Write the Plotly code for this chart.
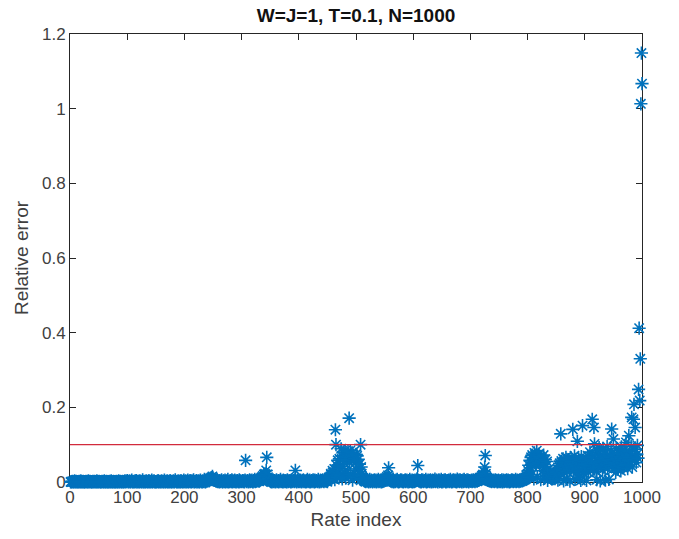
import numpy as np
import plotly.graph_objects as go

# Relative error per rate index, in thousandths
err_001_100 = [0,1,0,2,1,0,1,3,0,1, 2,0,1,1,0,2,1,0,3,1, 0,1,2,0,1,0,1,2,1,0, 1,3,0,1,2,1,0,1,0,2,
               1,0,2,1,1,0,3,1,0,1, 2,1,0,1,0,2,1,1,0,3, 1,0,1,2,0,1,1,0,2,1, 0,3,1,0,1,2,0,1,1,0,
               2,1,0,1,3,0,1,2,1,0, 1,2,0,1,1,3,0,2,1,4]
err_101_200 = [2,0,1,3,1,0,2,5,1,0, 1,2,0,3,1,4,0,1,2,1, 0,3,1,2,0,1,6,1,0,2, 1,0,3,1,2,0,1,4,1,0,
               2,1,5,0,1,2,3,0,1,1, 0,2,1,4,0,1,2,1,0,3, 1,2,0,1,5,1,0,2,1,3, 0,1,2,0,4,1,1,0,2,1,
               3,0,1,6,2,1,0,1,3,0, 2,1,0,4,1,2,0,1,5,1]
err_201_300 = [1,3,0,2,1,5,0,1,2,4, 1,0,3,1,2,6,0,1,2,1, 4,0,2,1,3,0,1,5,2,1, 0,3,1,2,7,1,0,4,2,3,
               5,8,3,6,10,7,12,9,15,11, 8,6,4,7,3,2,5,1,3,2, 0,4,1,2,6,1,0,3,2,1, 5,0,2,3,1,7,0,2,1,4,
               2,1,6,0,3,2,1,5,2,0, 3,1,4,2,0,6,1,3,2,1]
err_301_400 = [2,4,1,3,0,5,58,2,1,4, 3,0,2,6,1,3,2,5,1,0, 4,2,7,1,3,2,5,8,3,6, 2,4,9,6,12,8,16,10,20,14,
               22,18,31,66,20,13,9,6,4,2, 1,3,0,2,5,1,4,2,0,3, 6,1,2,4,0,3,2,7,1,2, 3,0,5,1,2,4,1,3,0,6,
               2,1,4,2,3,0,5,1,2,3, 4,1,6,31,2,0,3,5,1,2]
err_401_500 = [3,1,5,2,0,4,2,6,1,3, 2,0,4,1,7,2,3,1,5,0, 2,4,1,3,6,2,0,5,1,3, 4,2,1,7,3,0,2,5,1,4,
               3,6,2,1,4,8,3,2,5,1, 6,9,12,8,15,22,11,18,30,25, 14,35,6,140,100,45,12,58,40,26,
               62,18,36,89,70,8,42,80,24,50, 84,10,75,60,30,82,16,171,52,84, 20,66,78,5,58,72,14,63,35,74]
err_501_600 = [56,70,12,61,35,48,27,100,40,22, 15,9,6,4,2,5,1,3,6,2, 4,0,3,7,1,2,5,3,0,4, 2,6,1,3,5,0,2,4,7,1,
               3,2,5,0,4,1,6,2,3,8, 5,10,7,14,9,18,38,12,6,4, 2,5,1,3,6,0,2,4,1,5, 3,7,2,0,4,1,3,6,2,5,
               1,3,0,4,2,6,1,3,5,2, 0,4,1,7,2,3,1,5,0,2]
err_601_700 = [3,1,5,2,4,6,9,44,5,2, 4,1,3,0,6,2,5,1,3,4, 2,7,0,3,1,5,2,4,1,6, 3,0,2,5,1,4,2,8,1,3,
               5,2,0,4,6,1,3,2,7,0, 4,1,3,5,2,6,0,3,1,4, 2,5,1,3,7,2,0,4,1,6, 3,2,5,1,4,0,8,2,3,5,
               1,6,2,4,0,3,5,1,7,2, 4,3,1,6,2,5,0,3,4,2]
err_701_800 = [2,5,1,3,6,2,4,1,7,3, 5,2,8,4,6,10,7,12,9,16, 11,20,14,28,40,71,22,15,9,6, 4,7,3,5,2,6,1,4,3,2,
               5,1,3,6,2,4,0,3,5,1, 2,4,1,3,6,0,2,5,1,3, 4,2,6,1,3,5,2,0,4,1, 3,6,2,5,1,4,3,2,7,1,
               3,5,2,4,1,6,3,2,5,4, 3,7,5,9,6,12,10,18,14,22]
err_801_900 = [30,45,12,58,38,66,20,72,42,61, 8,78,55,48,70,84,14,62,52,75, 44,68,6,57,64,30,50,72,10,38,
               60,42,28,55,4,22,16,25,12,20, 10,18,8,14,24,11,19,9,15,26, 20,35,5,45,32,50,38,129,56,42,
               30,62,3,25,58,36,66,9,28,52, 40,60,34,2,48,65,38,56,141,30, 46,70,7,55,42,26,109,50,62,12,
               28,58,4,68,32,151,40,24,55,47]
err_901_1000 = [35,62,4,48,70,26,55,40,80,30, 58,44,168,66,36,146,102,50,74,28, 6,85,42,38,92,54,3,70,46,64,
                32,88,56,40,75,5,62,48,95,36, 58,7,72,50,66,84,142,44,60,115, 38,70,52,26,90,46,64,34,78,56,
                42,68,30,94,50,74,38,58,86,44, 62,106,48,72,36,58,124,82,54,66, 96,173,40,70,168,208,60,146,88,52,
                74,98,64,248,412,218,330,1013,1149,1067]

threshold = 0.1
x_ticks = [0, 100, 200, 300, 400, 500, 600, 700, 800, 900, 1000]
y_ticks = [0, 0.2, 0.4, 0.6, 0.8, 1.0, 1.2]

err = np.array(err_001_100 + err_101_200 + err_201_300 + err_301_400 + err_401_500 +
               err_501_600 + err_601_700 + err_701_800 + err_801_900 + err_901_1000) / 1000.0
idx = np.arange(1, len(err) + 1)

font_family = "Liberation Sans, Arial, sans-serif"
ax_col = "#262626"

fig = go.Figure()
fig.add_trace(go.Scatter(
    x=idx, y=err, mode="markers", cliponaxis=False,
    marker=dict(symbol="asterisk-open", size=11, color="#0072BD",
                line=dict(color="#0072BD", width=1.6)),
    showlegend=False))
fig.add_hline(y=threshold, line=dict(color="#D22B3C", width=1.2), layer="above")

fig.update_layout(
    width=679, height=539,
    margin=dict(l=70, r=37, t=34, b=54),
    paper_bgcolor="white", plot_bgcolor="white",
    font=dict(family=font_family, color=ax_col, size=17),
    title=dict(text="<b>W=J=1, T=0.1, N=1000</b>", x=0.5, xanchor="center",
               xref="paper", y=1 - 15 / 539, yref="container", yanchor="middle",
               font=dict(size=19, color="#111111", family=font_family)),
)
common = dict(showline=True, linecolor=ax_col, linewidth=1, mirror="ticks",
              ticks="inside", ticklen=6, tickcolor=ax_col, showgrid=False,
              zeroline=False, layer="below traces",
              tickfont=dict(size=17, color="#404040", family=font_family))
fig.update_xaxes(range=[0, 1000], tickvals=x_ticks,
                 title=dict(text="Rate index", font=dict(size=19, color="#404040"), standoff=6),
                 **common)
fig.update_yaxes(range=[0, 1.2], tickvals=y_ticks, ticktext=["0", "0.2", "0.4", "0.6", "0.8", "1", "1.2"],
                 title=dict(text="Relative error", font=dict(size=19, color="#404040"), standoff=8),
                 **common)

fig.write_html("out.html")
